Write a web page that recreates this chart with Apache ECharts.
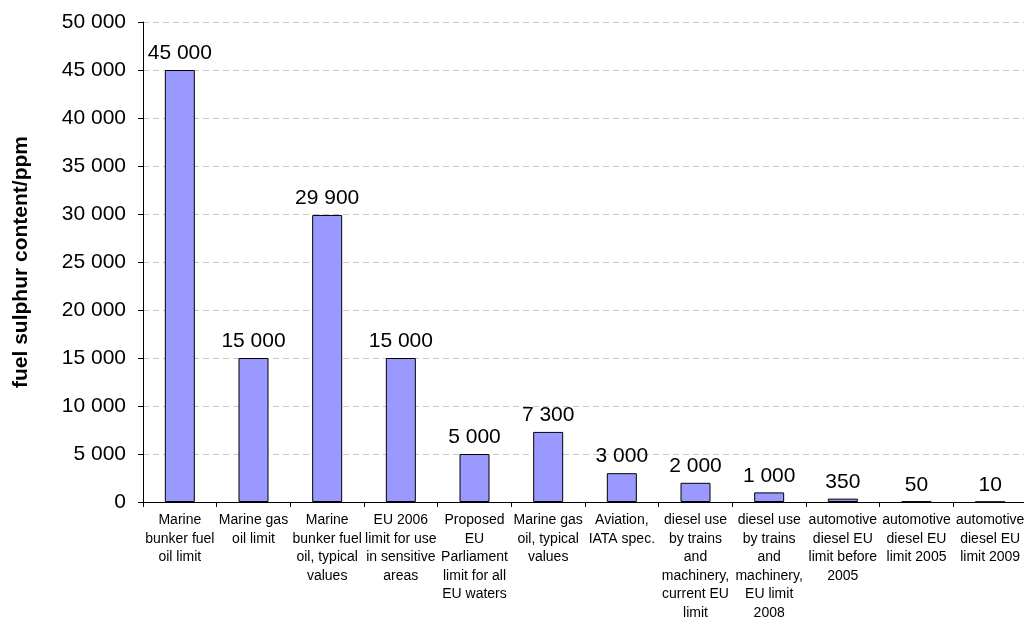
<!DOCTYPE html>
<html>
<head>
<meta charset="UTF-8">
<title>fuel sulphur content</title>
<script src="https://cdn.jsdelivr.net/npm/echarts@6/dist/echarts.min.js"></script>
<style>
html, body { margin: 0; padding: 0; background: #fff; }
#main { width: 1024px; height: 620px; }
</style>
</head>
<body>
<div id="main"></div>
<script>
// categories (line breaks as in the original chart)
var categories = [
  'Marine\nbunker fuel\noil limit',
  'Marine gas\noil limit',
  'Marine\nbunker fuel\noil, typical\nvalues',
  'EU 2006\nlimit for use\nin sensitive\nareas',
  'Proposed\nEU\nParliament\nlimit for all\nEU waters',
  'Marine gas\noil, typical\nvalues',
  'Aviation,\nIATA spec.',
  'diesel use\nby trains\nand\nmachinery,\ncurrent EU\nlimit',
  'diesel use\nby trains\nand\nmachinery,\nEU limit\n2008',
  'automotive\ndiesel EU\nlimit before\n2005',
  'automotive\ndiesel EU\nlimit 2005',
  'automotive\ndiesel EU\nlimit 2009'
];
var sulphurPpm = [45000, 15000, 29900, 15000, 5000, 7300, 3000, 2000, 1000, 350, 50, 10];
var yMin = 0, yMax = 50000, yStep = 5000;

// 45000 -> "45 000"
function spaced(v) {
  return String(v).replace(/\B(?=(\d{3})+(?!\d))/g, ' ');
}

var myChart = echarts.init(document.getElementById('main'));
var option = {
  animation: false,
  textStyle: { fontFamily: 'Liberation Sans, Arial, sans-serif', color: '#000' },
  grid: { left: 143, top: 22, width: 884, bottom: 118, outerBoundsMode: 'none' },
  xAxis: {
    type: 'category',
    data: categories,
    axisLine: { lineStyle: { color: '#000', width: 1 } },
    axisTick: { show: true, length: 5, lineStyle: { color: '#000' } },
    axisLabel: { interval: 0, fontSize: 14, lineHeight: 18.5, margin: 9, color: '#000', align: 'center' }
  },
  yAxis: {
    type: 'value',
    min: yMin, max: yMax, interval: yStep,
    name: 'fuel sulphur content/ppm',
    nameLocation: 'middle',
    nameGap: 111,
    nameTextStyle: { fontSize: 21, fontWeight: 'bold', color: '#000' },
    axisLine: { show: true, lineStyle: { color: '#000', width: 1 } },
    axisTick: { show: true, length: 5, lineStyle: { color: '#000' } },
    axisLabel: { fontSize: 21, margin: 17, color: '#000', formatter: spaced },
    splitLine: { show: true, lineStyle: { color: '#c8c8c8', type: [6, 4], width: 1 } }
  },
  series: [{
    type: 'bar',
    data: sulphurPpm,
    barWidth: 30,
    itemStyle: { color: '#9999ff', borderColor: '#000', borderWidth: 1 },
    label: {
      show: true, position: 'top', distance: 6,
      fontSize: 21, color: '#000',
      formatter: function (p) { return spaced(p.value); }
    }
  }]
};
myChart.setOption(option);
</script>
</body>
</html>
